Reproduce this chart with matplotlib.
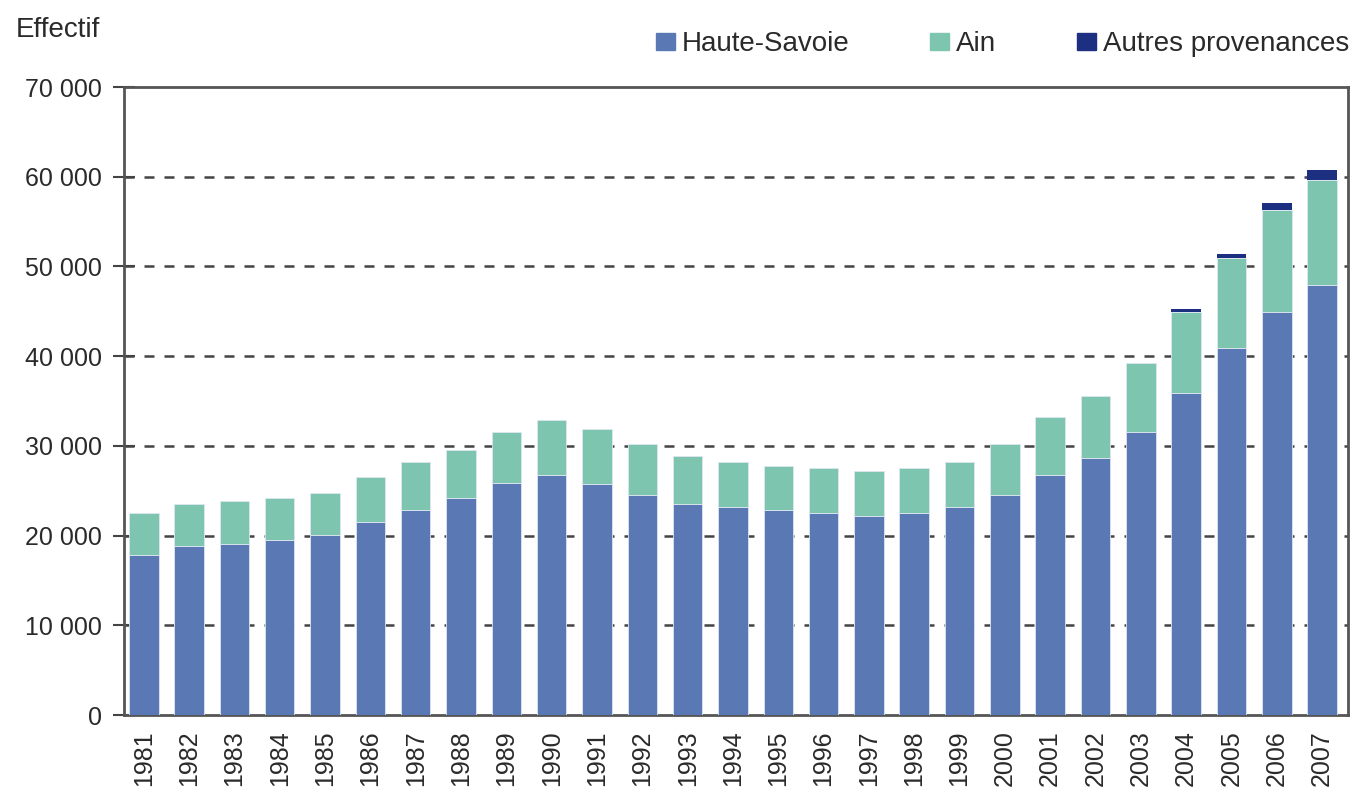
import matplotlib.pyplot as plt
from matplotlib.patches import Patch
from matplotlib.ticker import FuncFormatter
import numpy as np

# --- DONNEES ---
annees = list(range(1981, 2008))
haute_savoie = [17800, 18800, 19100, 19500, 20100, 21500, 22850, 24150, 25850, 26800,
                25800, 24500, 23500, 23200, 22800, 22500, 22200, 22500, 23200, 24550,
                26800, 28600, 31550, 35900, 40900, 44950, 47950]
ain = [4700, 4700, 4750, 4650, 4700, 5000, 5350, 5350, 5700, 6100,
       6050, 5700, 5350, 5000, 5000, 5000, 5000, 5000, 5000, 5650,
       6400, 6950, 7650, 9050, 10000, 11350, 11700]
autres = [0, 0, 0, 0, 0, 0, 0, 0, 0, 0,
          0, 0, 0, 0, 0, 0, 0, 0, 0, 0,
          0, 0, 0, 350, 450, 800, 1100]

c_hs = '#5A78B4'
c_ain = '#7DC5AF'
c_autres = '#1C2F80'

plt.rcParams['font.family'] = ['Liberation Sans', 'DejaVu Sans']

fig = plt.figure(figsize=(13.52, 7.92), dpi=100)
ax = fig.add_axes([0.0917, 0.0972, 0.9053, 0.7929])

x = np.arange(len(annees))
hs = np.array(haute_savoie)
ai = np.array(ain)
au = np.array(autres)
larg = 0.65
kw = dict(width=larg, edgecolor='#dfe6f2', linewidth=0.6, zorder=3)
ax.bar(x, hs, color=c_hs, **kw)
ax.bar(x, ai, bottom=hs, color=c_ain, **kw)
ax.bar(x, au, bottom=hs + ai, color=c_autres, width=larg, linewidth=0, zorder=3)

ax.set_xlim(-0.437, 26.57)
ax.set_ylim(0, 70000)
ax.set_yticks(range(0, 70001, 10000))
ax.yaxis.set_major_formatter(FuncFormatter(lambda v, p: f"{int(v):,}".replace(',', ' ')))
ax.set_xticks(x)
ax.set_xticklabels([str(a) for a in annees], rotation=90)
ax.tick_params(axis='x', length=0, labelsize=18, colors='#2a2a2a', pad=11)
ax.tick_params(axis='y', direction='inout', length=16, width=1.5, color='#444444',
               labelsize=18, labelcolor='#2a2a2a', pad=8)

for v in range(10000, 70000, 10000):
    ax.axhline(v, color='#444444', linestyle=(0, (4, 4)), linewidth=1.8, zorder=1)

for s in ax.spines.values():
    s.set_color('#555555')
    s.set_linewidth(2)

fig.text(0.012, 0.962, "Effectif", fontsize=20, color='#2a2a2a', va='center')

poignees = [Patch(color=c_hs), Patch(color=c_ain), Patch(color=c_autres)]
fig.legend(poignees, ['Haute-Savoie', 'Ain', 'Autres provenances'], ncol=3,
           loc='center right', bbox_to_anchor=(1.008, 0.944), frameon=False,
           borderpad=0, fontsize=20, handlelength=0.68, handleheight=0.6,
           handletextpad=0.25, columnspacing=2.9, labelcolor='#2a2a2a')

fig.savefig('out.png', dpi=100)
